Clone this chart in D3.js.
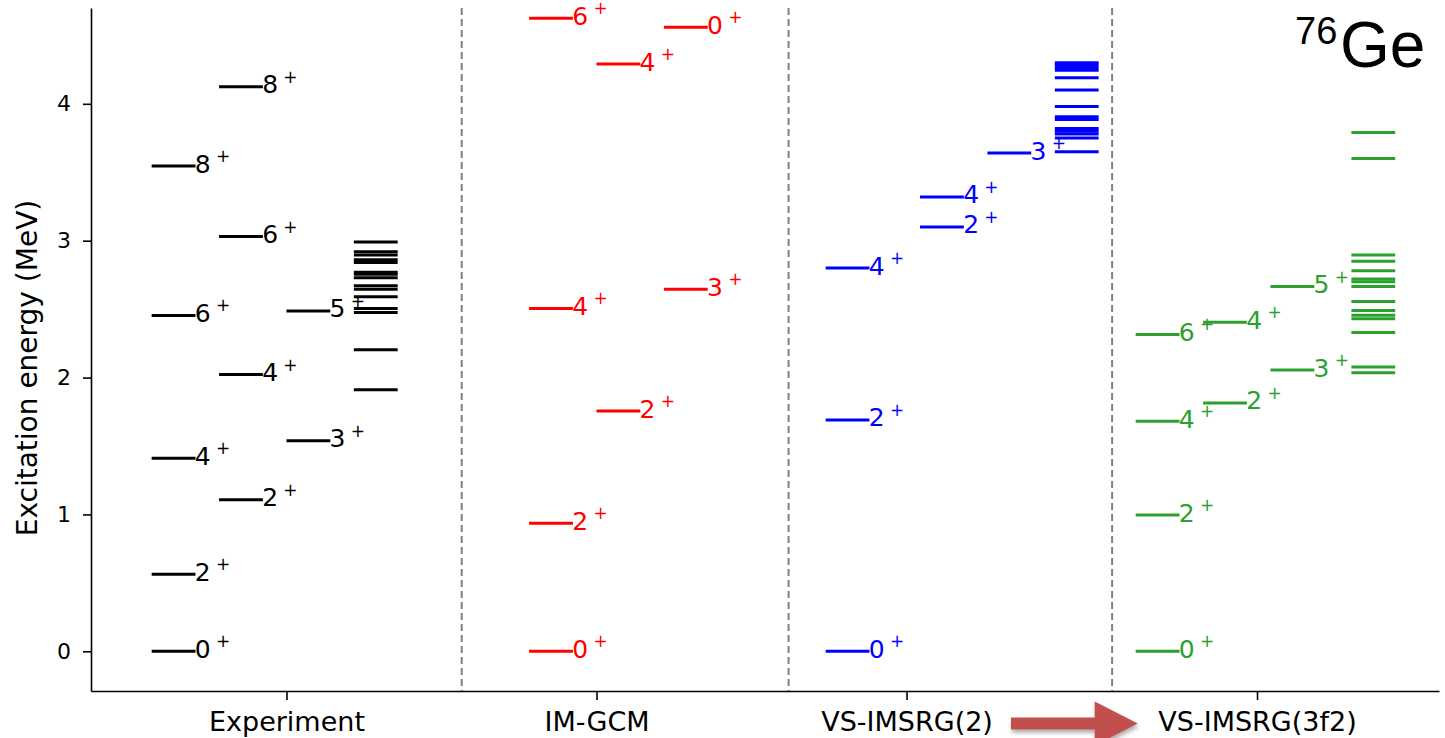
<!DOCTYPE html>
<meta charset="utf-8">
<!-- Load d3.js -->
<script src="https://d3js.org/d3.v7.min.js"></script>
<style>
body { margin: 0; background: #fff; }
text { font-family: "DejaVu Sans", sans-serif; }
</style>
<div id="levels"></div>
<script>

// ---- data ----
var methods = ["Experiment", "IM-GCM", "VS-IMSRG(2)", "VS-IMSRG(3f2)"];
var methodPos = [3.0, 7.6, 12.2, 17.4];       // x tick of each method
var separatorPos = [5.6, 10.45, 15.25];         // dashed lines between methods
var yTicks = [0, 1, 2, 3, 4];

// labelled levels: [column, energy (MeV), J]
var expLevels = [[1, 0, "0"], [1, 0.563, "2"], [1, 1.41, "4"], [1, 2.454, "6"], [1, 3.545, "8"],
                 [2, 1.108, "2"], [2, 2.022, "4"], [2, 3.03, "6"], [2, 4.125, "8"],
                 [3, 1.539, "3"], [3, 2.487, "5"]];
var gcmLevels = [[6.6, 0, "0"], [6.6, 0.935, "2"], [6.6, 2.505, "4"], [6.6, 4.625, "6"],
                 [7.6, 1.755, "2"], [7.6, 4.29, "4"],
                 [8.6, 2.645, "3"], [8.6, 4.56, "0"]];
var vs2Levels = [[11.0, 0, "0"], [11.0, 1.69, "2"], [11.0, 2.80, "4"],
                 [12.4, 3.10, "2"], [12.4, 3.32, "4"],
                 [13.4, 3.64, "3"]];
var vs3Levels = [[15.6, 0, "0"], [15.6, 0.995, "2"], [15.6, 1.68, "4"], [15.6, 2.315, "6"],
                 [16.6, 1.815, "2"], [16.6, 2.405, "4"],
                 [17.6, 2.055, "3"], [17.6, 2.665, "5"]];

// unlabelled higher states, drawn as a stack
var stackCols = [4, null, 14.4, 18.8];
var expStack = [1.911, 2.204, 2.475, 2.505, 2.59, 2.645, 2.67, 2.73, 2.755, 2.77, 2.84, 2.86, 2.895, 2.92, 2.99];
var vs2Stack = [3.65, 3.75, 3.78, 3.80, 3.82, 3.885, 3.905, 3.98, 4.10, 4.19, 4.245, 4.265, 4.285, 4.30];
var vs3Stack = [2.035, 2.078, 2.33, 2.43, 2.455, 2.49, 2.555, 2.665, 2.70, 2.72, 2.78, 2.85, 2.895, 3.60, 3.79];

// arrow from VS-IMSRG(2) to VS-IMSRG(3f2)
var arrowSpan = [13.75, 15.63];

var colors = ["#000000", "#ff0000", "#0000ff", "#2ca02c"];
var allLevels = [expLevels, gcmLevels, vs2Levels, vs3Levels];
var allStacks = [expStack, [], vs2Stack, vs3Stack];
var levelW = 0.65;

// ---- svg ----
var svg = d3.select("#levels")
  .append("svg")
    .attr("width", 1445)
    .attr("height", 738);

var x = d3.scaleLinear().domain([0.1, 20.1]).range([91, 1439]);
var y = d3.scaleLinear().domain([-0.29, 4.7]).range([691, 8]);

// dashed separators
svg.append("g")
  .selectAll("line")
  .data(separatorPos)
  .enter()
  .append("line")
    .attr("x1", function(d) { return x(d); })
    .attr("x2", function(d) { return x(d); })
    .attr("y1", y.range()[1])
    .attr("y2", y.range()[0])
    .attr("stroke", "#808080")
    .attr("stroke-width", 2)
    .attr("stroke-dasharray", "7,4");

// Y axis
var yAxis = svg.append("g")
  .attr("transform", "translate(91,0)")
  .call(d3.axisLeft(y).tickValues(yTicks).tickSize(8).tickSizeOuter(0).tickPadding(12).tickFormat(d3.format("d")));
yAxis.attr("font-size", 22).attr("font-family", "DejaVu Sans");
yAxis.selectAll("path, line").attr("stroke-width", 1.6);

// X axis
var xAxis = svg.append("g")
  .attr("transform", "translate(0,691)")
  .call(d3.axisBottom(x).tickValues(methodPos).tickSize(9).tickSizeOuter(0)
    .tickFormat(function(d, i) { return methods[i]; }));
xAxis.attr("font-size", 27).attr("font-family", "DejaVu Sans");
xAxis.selectAll("path, line").attr("stroke-width", 1.6);
xAxis.selectAll("text").attr("y", 40).attr("dy", null);

// y label
svg.append("text")
  .attr("transform", "translate(37,368) rotate(-90)")
  .attr("text-anchor", "middle")
  .attr("font-size", 28)
  .text("Excitation energy (MeV)");

// levels with labels
allLevels.forEach(function(levels, m) {
  var g = svg.append("g").attr("fill", colors[m]);
  g.selectAll("line")
    .data(levels)
    .enter()
    .append("line")
      .attr("x1", function(d) { return x(d[0]); })
      .attr("x2", function(d) { return x(d[0] + levelW); })
      .attr("y1", function(d) { return y(d[1]); })
      .attr("y2", function(d) { return y(d[1]); })
      .attr("stroke", colors[m])
      .attr("stroke-width", 3);
  g.selectAll("text.j")
    .data(levels)
    .enter()
    .append("text")
      .attr("class", "j")
      .attr("x", function(d) { return x(d[0] + levelW) - 0.7; })
      .attr("y", function(d) { return y(d[1]) + 6.5; })
      .attr("font-size", 25)
      .text(function(d) { return d[2]; });
  g.selectAll("text.p")
    .data(levels)
    .enter()
    .append("text")
      .attr("class", "p")
      .attr("x", function(d) { return x(d[0] + levelW) + 20.5; })
      .attr("y", function(d) { return y(d[1]) - 4; })
      .attr("font-size", 17)
      .text("+");
});

// stacks
allStacks.forEach(function(stack, m) {
  if (!stack.length) return;
  svg.append("g")
    .selectAll("line")
    .data(stack)
    .enter()
    .append("line")
      .attr("x1", x(stackCols[m]))
      .attr("x2", x(stackCols[m] + levelW))
      .attr("y1", function(d) { return y(d); })
      .attr("y2", function(d) { return y(d); })
      .attr("stroke", colors[m])
      .attr("stroke-width", 3);
});

// nucleus title
var title = svg.append("g");
title.append("text").attr("x", 1295).attr("y", 44).attr("font-size", 38).style("font-family", "Liberation Sans").text("76");
title.append("text").attr("x", 1340).attr("y", 67).attr("font-size", 64).style("font-family", "Liberation Sans").text("Ge");

// arrow
var defs = svg.append("defs");
defs.append("filter").attr("id", "shadow")
  .append("feDropShadow")
    .attr("dx", 1).attr("dy", 3).attr("stdDeviation", 2)
    .attr("flood-color", "#000").attr("flood-opacity", 0.35);
var ax0 = x(arrowSpan[0]), ax1 = x(arrowSpan[1]), ay = 723.5;
var headBase = ax1 - 43;
svg.append("path")
  .attr("d", "M" + ax0 + "," + (ay - 6) + "L" + headBase + "," + (ay - 6) + "L" + headBase + "," + (ay - 22) +
             "L" + ax1 + "," + ay + "L" + headBase + "," + (ay + 22) + "L" + headBase + "," + (ay + 6) +
             "L" + ax0 + "," + (ay + 6) + "Z")
  .attr("fill", "#c0504d")
  .attr("filter", "url(#shadow)");

</script>
